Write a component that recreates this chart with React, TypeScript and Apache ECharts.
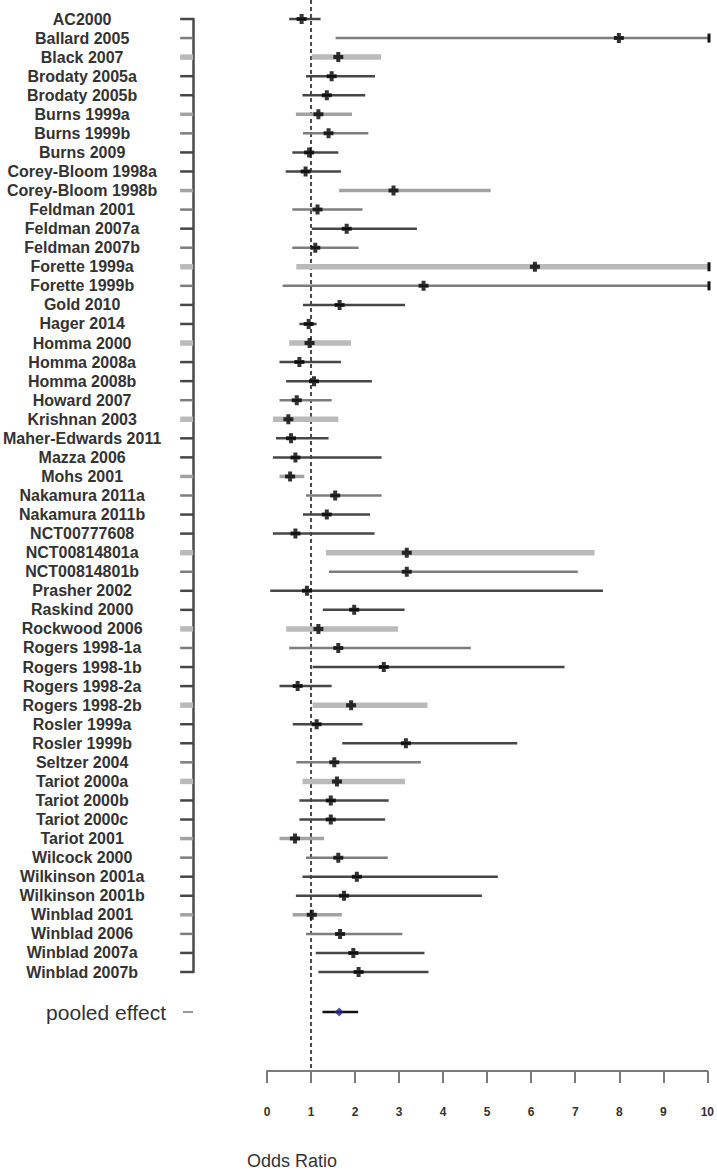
import React, { useEffect, useRef } from "react";
import * as echarts from "echarts";

// ---- data ----
const studies = [
  "AC2000", "Ballard 2005", "Black 2007", "Brodaty 2005a", "Brodaty 2005b",
  "Burns 1999a", "Burns 1999b", "Burns 2009", "Corey-Bloom 1998a", "Corey-Bloom 1998b",
  "Feldman 2001", "Feldman 2007a", "Feldman 2007b", "Forette 1999a", "Forette 1999b",
  "Gold 2010", "Hager 2014", "Homma 2000", "Homma 2008a", "Homma 2008b",
  "Howard 2007", "Krishnan 2003", "Maher-Edwards 2011", "Mazza 2006", "Mohs 2001",
  "Nakamura 2011a", "Nakamura 2011b", "NCT00777608", "NCT00814801a", "NCT00814801b",
  "Prasher 2002", "Raskind 2000", "Rockwood 2006", "Rogers 1998-1a", "Rogers 1998-1b",
  "Rogers 1998-2a", "Rogers 1998-2b", "Rosler 1999a", "Rosler 1999b", "Seltzer 2004",
  "Tariot 2000a", "Tariot 2000b", "Tariot 2000c", "Tariot 2001", "Wilcock 2000",
  "Wilkinson 2001a", "Wilkinson 2001b", "Winblad 2001", "Winblad 2006", "Winblad 2007a",
  "Winblad 2007b",
];

const oddsRatio = [
  0.78, 7.96, 1.61, 1.46, 1.35,
  1.16, 1.39, 0.95, 0.87, 2.86,
  1.14, 1.80, 1.09, 6.06, 3.54,
  1.64, 0.94, 0.96, 0.73, 1.06,
  0.67, 0.48, 0.54, 0.64, 0.52,
  1.54, 1.35, 0.64, 3.16, 3.16,
  0.90, 1.97, 1.16, 1.61, 2.64,
  0.69, 1.90, 1.12, 3.14, 1.52,
  1.58, 1.44, 1.44, 0.63, 1.61,
  2.03, 1.74, 1.01, 1.65, 1.95,
  2.07,
];

const ciLower = [
  0.50, 1.55, 1.01, 0.88, 0.80,
  0.65, 0.81, 0.57, 0.42, 1.63,
  0.57, 1.01, 0.57, 0.66, 0.35,
  0.81, 0.73, 0.50, 0.28, 0.43,
  0.28, 0.13, 0.20, 0.13, 0.28,
  0.88, 0.81, 0.13, 1.33, 1.40,
  0.07, 1.26, 0.43, 0.50, 1.03,
  0.28, 1.03, 0.58, 1.70, 0.66,
  0.80, 0.73, 0.73, 0.28, 0.88,
  0.80, 0.65, 0.58, 0.88, 1.10,
  1.16,
];

const ciUpper = [
  1.21, 10, 2.58, 2.44, 2.22,
  1.92, 2.29, 1.61, 1.67, 5.06,
  2.16, 3.39, 2.07, 10, 10,
  3.12, 1.12, 1.90, 1.67, 2.37,
  1.46, 1.61, 1.39, 2.59, 0.84,
  2.59, 2.33, 2.43, 7.41, 7.03,
  7.60, 3.11, 2.96, 4.61, 6.73,
  1.46, 3.63, 2.16, 5.66, 3.48,
  3.12, 2.75, 2.67, 1.29, 2.73,
  5.22, 4.86, 1.69, 3.06, 3.56,
  3.65,
];

// study group (drives the grey shade): 0 dark, 1 medium, 2 light, 3 light-medium
const shadeGroup = [
  0, 1, 2, 0, 0,
  3, 1, 0, 0, 3,
  1, 0, 1, 2, 1,
  0, 0, 2, 0, 0,
  1, 2, 0, 0, 3,
  1, 0, 0, 2, 1,
  0, 0, 2, 1, 0,
  0, 2, 0, 0, 1,
  2, 0, 0, 3, 1,
  0, 0, 3, 1, 0,
  0,
];

const pooledLabel = ["pooled effect"];
const pooledOR = [1.64];
const pooledLower = [1.26];
const pooledUpper = [2.07];

const X_MIN = 0;
const X_MAX = 10;
const X_STEP = 1;

// ---- styles / layout ----
const SHADES = [
  { color: "#464646", width: 2.5 },
  { color: "#7d7d7d", width: 2.5 },
  { color: "#bababa", width: 5.5 },
  { color: "#a2a2a2", width: 3.5 },
];
const FONT = "'Liberation Sans', Arial, sans-serif";
const W = 717;
const H = 1171;
const GRID_LEFT = 267;
const GRID_RIGHT = 8;
const TOP_A = 19;
const HEIGHT_A = 953;
const TOP_B = 953;
const BOTTOM_B = 1071;
const AXIS_OFFSET = 74;

export default function App() {
  const ref = useRef<HTMLDivElement>(null);

  useEffect(() => {
    document.body.style.margin = "0";
    const chart = echarts.init(ref.current!, undefined, { renderer: "svg" });

    const barData = studies.map((_, i) => [i, ciLower[i], ciUpper[i], shadeGroup[i]]);
    const pointData = studies.map((_, i) => [oddsRatio[i], i]);

    const renderBar = (params: any, api: any) => {
      const idx = api.value(0);
      const lo = api.value(1);
      const hi = api.value(2);
      const g = api.value(3);
      const s = SHADES[g];
      const a = api.coord([lo, idx]);
      const b = api.coord([hi, idx]);
      const axisX = api.coord([X_MIN, idx])[0] - AXIS_OFFSET;
      const children: any[] = [
        {
          type: "line",
          shape: { x1: a[0], y1: a[1], x2: b[0], y2: b[1] },
          style: { stroke: s.color, lineWidth: s.width },
        },
        {
          type: "line",
          shape: { x1: axisX - 13, y1: a[1], x2: axisX, y2: a[1] },
          style: { stroke: s.color, lineWidth: s.width },
        },
      ];
      if (hi >= X_MAX) {
        children.push({
          type: "rect",
          shape: { x: b[0] - 1.5, y: b[1] - 4.5, width: 3, height: 9 },
          style: { fill: "#111" },
        });
      }
      return { type: "group", children };
    };

    const renderPooled = (params: any, api: any) => {
      const a = api.coord([api.value(1), api.value(0)]);
      const b = api.coord([api.value(2), api.value(0)]);
      return {
        type: "line",
        shape: { x1: a[0], y1: a[1], x2: b[0], y2: b[1] },
        style: { stroke: "#111", lineWidth: 2.5 },
      };
    };

    const marker = "path://M3,0H7V3H10V7H7V10H3V7H0V3H3Z";

    chart.setOption({
      animation: false,
      backgroundColor: "#ffffff",
      grid: [
        { left: GRID_LEFT, right: GRID_RIGHT, top: TOP_A, height: HEIGHT_A },
        { left: GRID_LEFT, right: GRID_RIGHT, top: TOP_B, height: BOTTOM_B - TOP_B },
      ],
      xAxis: [
        { gridIndex: 0, type: "value", min: X_MIN, max: X_MAX, interval: X_STEP, show: false },
        {
          gridIndex: 1,
          type: "value",
          min: X_MIN,
          max: X_MAX,
          interval: X_STEP,
          splitLine: { show: false },
          axisLine: { show: true, onZero: false, lineStyle: { color: "#7a7a7a", width: 2 } },
          axisTick: { show: true, length: 12, lineStyle: { color: "#7a7a7a", width: 2 } },
          axisLabel: {
            margin: 35,
            fontFamily: FONT,
            fontSize: 12,
            fontWeight: "bold",
            color: "#333",
            showMinLabel: true,
            showMaxLabel: true,
          },
        },
      ],
      yAxis: [
        {
          gridIndex: 0,
          type: "category",
          data: studies,
          inverse: true,
          boundaryGap: false,
          offset: AXIS_OFFSET,
          axisLine: { show: true, onZero: false, lineStyle: { color: "#4a4a4a", width: 2.5 } },
          axisTick: { show: false },
          splitLine: { show: false },
          axisLabel: {
            interval: 0,
            margin: 111,
            align: "center",
            fontFamily: FONT,
            fontSize: 16,
            fontWeight: "bold",
            color: "#333",
          },
        },
        {
          gridIndex: 1,
          type: "category",
          data: pooledLabel,
          inverse: true,
          boundaryGap: true,
          offset: AXIS_OFFSET,
          axisLine: { show: false, onZero: false },
          axisTick: {
            show: true,
            alignWithLabel: true,
            length: 10,
            inside: false,
            lineStyle: { color: "#9a9a9a", width: 2 },
          },
          splitLine: { show: false },
          axisLabel: {
            margin: 27,
            fontFamily: FONT,
            fontSize: 21,
            color: "#333",
          },
        },
      ],
      series: [
        {
          type: "custom",
          xAxisIndex: 0,
          yAxisIndex: 0,
          renderItem: renderBar,
          data: barData,
          encode: { x: [1, 2], y: 0 },
          clip: false,
          z: 2,
        },
        {
          type: "scatter",
          xAxisIndex: 0,
          yAxisIndex: 0,
          data: pointData,
          symbol: marker,
          symbolSize: 10,
          itemStyle: { color: "#000" },
          z: 4,
        },
        {
          type: "custom",
          xAxisIndex: 1,
          yAxisIndex: 1,
          renderItem: renderPooled,
          data: pooledOR.map((_, i) => [i, pooledLower[i], pooledUpper[i]]),
          encode: { x: [1, 2], y: 0 },
          z: 2,
        },
        {
          type: "scatter",
          xAxisIndex: 1,
          yAxisIndex: 1,
          data: pooledOR.map((v, i) => [v, i]),
          symbol: "diamond",
          symbolSize: 9,
          itemStyle: { color: "#26268a" },
          z: 4,
        },
      ],
    });

    const refX = chart.convertToPixel({ xAxisIndex: 1 }, 1) as number;
    chart.setOption({
      graphic: [
        {
          type: "line",
          z: 1,
          shape: { x1: refX, y1: 0, x2: refX, y2: BOTTOM_B },
          style: { stroke: "#4a4a4a", lineWidth: 2, lineDash: [4, 3] },
        },
        {
          type: "text",
          left: 247,
          top: 1152,
          style: {
            text: "Odds Ratio",
            font: `18px ${FONT}`,
            fill: "#333",
          },
        },
      ],
    });

    return () => chart.dispose();
  }, []);

  return <div ref={ref} style={{ width: W, height: H }} />;
}
